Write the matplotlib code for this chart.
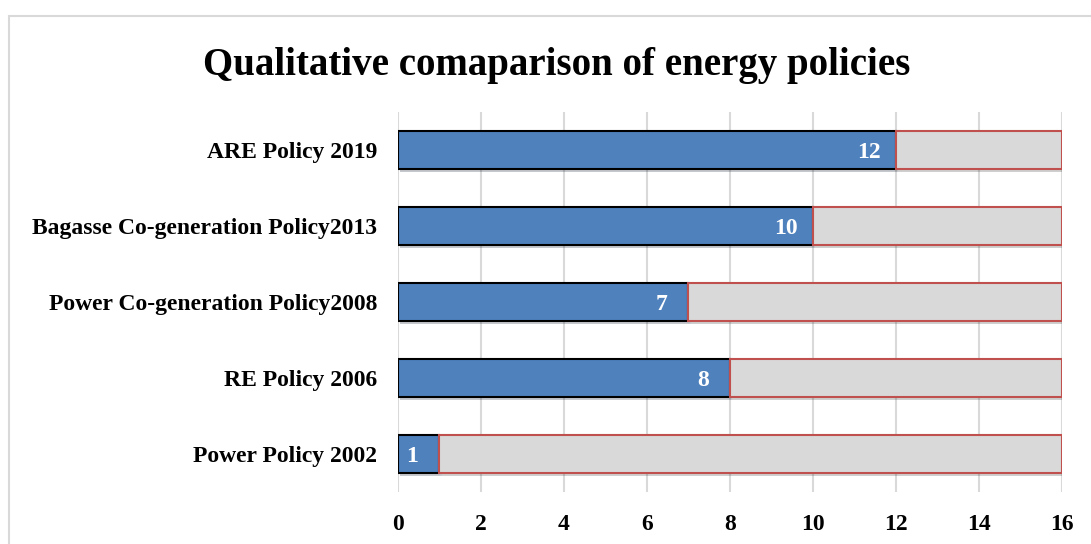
import numpy as np
import matplotlib.pyplot as plt
from matplotlib.patches import Rectangle
import matplotlib.patheffects as pe

plt.rcParams['font.family'] = ['Liberation Serif', 'DejaVu Serif']
plt.rcParams['font.weight'] = 'bold'

policies = ["Power Policy 2002", "RE Policy 2006", "Power Co-generation Policy2008",
            "Bagasse Co-generation Policy2013", "ARE Policy 2019"]
scores = np.array([1, 8, 7, 10, 12])
total = 16
rest = total - scores

fig = plt.figure(figsize=(10.91, 5.44), dpi=100)
ax = fig.add_axes([0.3648, 0.0956, 0.6086, 0.6985])

# light frame around the chart area
fig.patches.append(Rectangle((9 / 1091, -0.05), 1.1, 1 - 16 / 544 + 0.05,
                             transform=fig.transFigure, fill=False,
                             edgecolor="#d9d9d9", linewidth=1.5))

y = np.arange(len(policies))
shadow = [pe.SimplePatchShadow(offset=(1.5, -2), alpha=0.25), pe.Normal()]
b1 = ax.barh(y, scores, height=0.5, color="#4f81bd", edgecolor="black",
             linewidth=1.5, zorder=3)
b2 = ax.barh(y, rest, left=scores, height=0.5, color="#d9d9d9",
             edgecolor="#c0504d", linewidth=1.5, zorder=3)
for b in list(b1) + list(b2):
    b.set_path_effects(shadow)

for yi, s in zip(y, scores):
    ax.text(s - 0.65, yi, str(s), ha="center", va="center_baseline", color="white",
            fontsize=17, fontweight="bold", zorder=4)

ax.set_xlim(0, 16)
ax.set_ylim(-0.5, 4.5)
ax.set_xticks(np.arange(0, 17, 2))
ax.set_yticks(y)
ax.set_yticklabels(policies)
ax.tick_params(axis="both", length=0, labelsize=17)
ax.tick_params(axis="x", pad=16)
ax.tick_params(axis="y", pad=15)
ax.grid(axis="x", color="#d9d9d9", linewidth=1.5, zorder=0)
for sp in ax.spines.values():
    sp.set_visible(False)

fig.text(0.51, 0.88, "Qualitative comaparison of energy policies",
         ha="center", va="center", fontsize=28, fontweight="bold")

fig.savefig("out.png", dpi=100)
